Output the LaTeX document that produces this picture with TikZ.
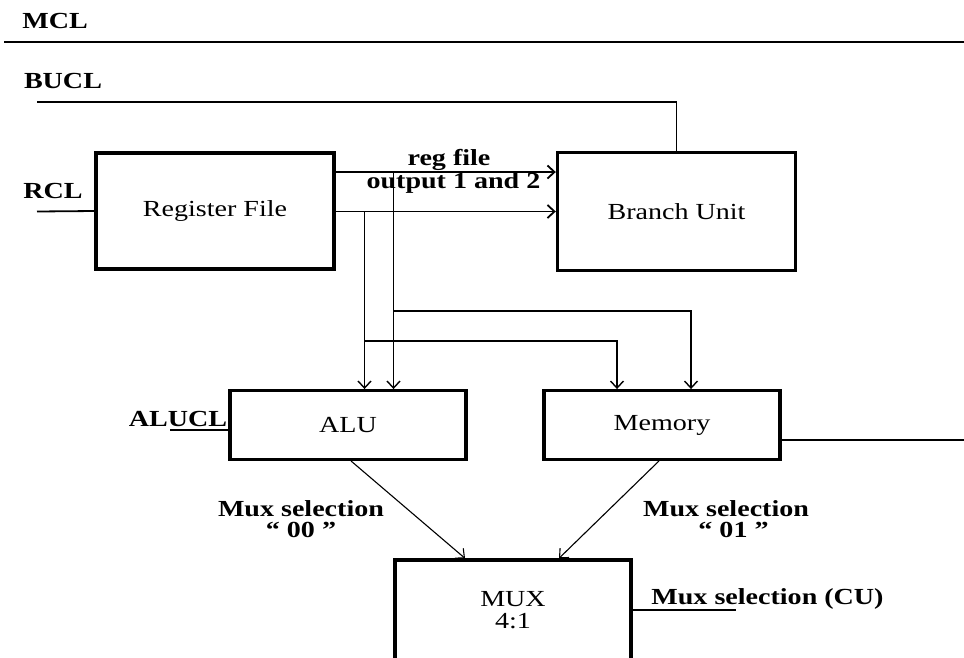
\documentclass[tikz,border=0pt]{standalone}
\usepackage{fontspec}
\setmainfont{Liberation Serif}[FakeStretch=1.22]
\usetikzlibrary{arrows.meta,calc}
\tikzset{
unit/.style={draw,line width=3.4pt,minimum width=236pt,align=center,font=\fontsize{23}{22.7}\selectfont},
wire/.style={line width=1.8pt},
flow/.style={-{Straight Barb[length=7pt,width=13pt]},line width=1.4pt},
tag/.style={font=\fontsize{23}{21}\selectfont\bfseries,align=center,inner sep=0pt}}
\begin{document}
\begin{tikzpicture}[x=1pt,y=-1pt]
\useasboundingbox (0,0) rectangle (964,657);
\clip (0,0) rectangle (964,657);
% control lines
\node[tag] (mcl) at (55,21) {MCL};
\coordinate (mclL) at (4,42);
\coordinate (mclR) at (964,42);
\draw[line width=1.4pt] (mclL)--(mclR);
\node[tag] (bucl) at (63,81) {BUCL};
\node[tag] (rcl) at (53,191) {RCL};
\node[tag] (alucl) at (178,419) {ALUCL};
% units
\node[unit,minimum width=238pt,minimum height=116pt] (regfile) at (215,211) {Register File};
\node[unit,minimum width=238pt,minimum height=118pt] (branch) at (676.5,211.5) {Branch Unit};
\node[unit,minimum height=68.5pt] (alu) at (348,425) {ALU};
\node[unit,minimum height=68.5pt] (memory) at (662,425) {Memory};
\node[unit,minimum height=100pt] (mux) at (513,610) {MUX\\4:1};
% inputs
\coordinate (buclin) at (37,102);
\coordinate (rclin) at (37,211.5);
\coordinate (aluclin) at (170,430);
\draw[wire] (buclin)-|(branch.north);
\draw[wire] (rclin)--(regfile.west);
\draw[line width=1.5pt] (aluclin)--(aluclin-|alu.west);
% register file outputs
\coordinate (out1) at (0,172);
\coordinate (out2) at (0,211.5);
\draw[flow,line width=1.8pt] (regfile.east|-out1)--(branch.west|-out1);
\draw[flow,line width=1.8pt] (regfile.east|-out2)--(branch.west|-out2);
\node[tag] (regfilelbl) at (449,160) {reg file};
\node[tag] (outlbl) at (453.5,183) {output 1 and 2};
\coordinate (tapA) at (364.5,211.5);
\coordinate (tapB) at (393.5,172);
\coordinate (busA) at (617,341);
\coordinate (busB) at (691,311);
\draw[flow] (tapA)--(tapA|-alu.north);
\draw[flow] (tapB)--(tapB|-alu.north);
\draw[flow] (tapB|-busB)--(busB)--(busB|-memory.north);
\draw[flow] (tapA|-busA)--(busA)--(busA|-memory.north);
% outputs
\coordinate (memout) at (964,440);
\draw[line width=1.4pt] (memory.east|-memout)--(memout);
\draw[flow,line width=1.1pt] ([xshift=3pt]alu.south)--([xshift=-48pt]mux.north);
\draw[flow,line width=1.1pt] ([xshift=-3pt]memory.south)--([xshift=46pt]mux.north);
\node[tag] (sel0) at (301,519.5) {Mux selection\\`` 00 ''};
\node[tag] (sel1) at (726,519.5) {Mux selection\\\hspace*{15pt}`` 01 ''};
\node[tag] (selcu) at (767.5,599) {Mux selection (CU)};
\coordinate (muxsel) at (736,610);
\draw[line width=1.5pt] (mux.east|-muxsel)--(muxsel);
\end{tikzpicture}
\end{document}
